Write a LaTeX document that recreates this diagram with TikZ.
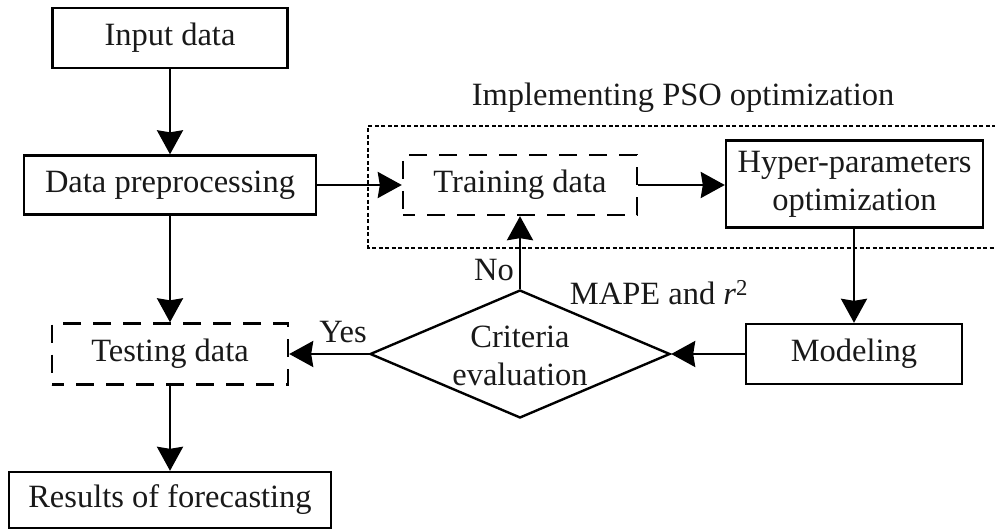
\documentclass[tikz,border=0pt]{standalone}
\usepackage{fontspec}
\setmainfont{Liberation Serif}
\usetikzlibrary{arrows.meta,shapes.geometric}
\begin{document}
\begin{tikzpicture}[x=1pt,y=-1pt,
  every node/.style={font=\fontsize{32.5pt}{38pt}\selectfont, text=black!90, inner sep=0pt},
  solidbox/.style={draw, line width=2.4pt, minimum width=#1},
  dashbox/.style={draw, line width=2.4pt, dash pattern=on 18pt off 12pt, dash phase=6pt, minimum width=#1},
  flow/.style={line width=2.4pt, -{Stealth[length=24pt,width=26pt,inset=2pt]}},
  group/.style={line width=2.2pt, dash pattern=on 4pt off 2.5pt}
]
\useasboundingbox (0,0) rectangle (995,529);

% process boxes
\node[solidbox=235, minimum height=60] (in) at (170,38) {Input data};
\node[solidbox=292, minimum height=59] (dp) at (170,185) {Data preprocessing};
\node[dashbox=234, minimum height=60] (train) at (520,185) {Training data};
\node[solidbox=257, minimum height=87, align=center] (hyp) at (854.5,184) {Hyper-parameters\\optimization};
\node[solidbox=216, minimum height=60] (model) at (854,354) {Modeling};
\node[draw, diamond, line width=2.4pt, minimum width=300, minimum height=128] (crit) at (520,354) {};
\node[align=center] (crittext) at (520,356) {Criteria\\evaluation};
\node[dashbox=236, minimum height=61] (test) at (170,354) {Testing data};
\node[solidbox=322, minimum height=56] (res) at (170,500) {Results of forecasting};

% PSO group frame (open on the right)
\draw[group] (996,126) -- (368,126) -- (368,248) -- (996,248);
\node (pso) at (683,98) {Implementing PSO optimization};

% connectors
\draw[flow] (in.south) -- (dp.north);
\draw[flow] (dp.east) -- (train.west);
\draw[flow] (train.east) -- (train.east -| hyp.west);
\draw[flow] (hyp.south -| model.north) -- (model.north);
\draw[flow] (model.west) -- (crit.east);
\draw[flow] (crit.north) -- (train.south);
\draw[flow] (crit.west) -- (test.east);
\draw[flow] (dp.south) -- (test.north);
\draw[flow] (test.south) -- (res.north);

% labels
\node (no) at (494,270) {No};
\node (yes) at (343,332) {Yes};
\node (crit-lbl) at (659,293) {MAPE and \textit{r}\textsuperscript{2}};
\end{tikzpicture}
\end{document}
